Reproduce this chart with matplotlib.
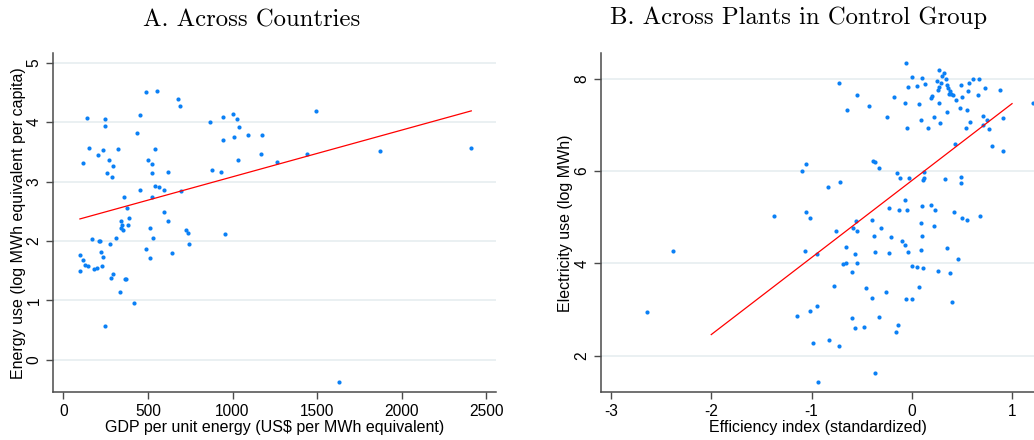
import matplotlib
matplotlib.use("Agg")
import matplotlib.pyplot as plt

plt.rcParams["axes.unicode_minus"] = False

# Panel A: countries (GDP per unit energy vs log energy use per capita)
gdp_per_energy = [
    98, 98, 118, 126, 146, 116, 142, 154, 169, 183, 197, 205, 211, 215, 224,
    228, 234, 236, 246, 248, 246, 258, 272, 276, 287, 283, 293, 295, 311, 323,
    333, 341, 343, 346, 350, 356, 362, 370, 376, 382, 390, 419, 433, 451, 453,
    488, 490, 500, 514, 514, 522, 526, 526, 531, 541, 543, 551, 565, 593, 593,
    616, 620, 642, 675, 691, 697, 726, 734, 742, 866, 876, 931, 941, 945, 957,
    1000, 1006, 1026, 1031, 1037, 1089, 1169, 1173, 1260, 1439, 1492, 1632,
    1870, 2411,
]
log_energy_pc = [
    1.76, 1.50, 1.68, 1.60, 1.58, 3.31, 4.07, 3.57, 2.03, 1.53, 1.55, 3.45,
    2.00, 1.99, 1.81, 1.58, 1.73, 3.53, 4.05, 3.94, 0.56, 3.14, 3.36, 1.95,
    3.08, 1.37, 1.44, 3.26, 2.05, 3.55, 1.14, 2.33, 2.21, 2.26, 2.18, 2.74,
    1.36, 1.36, 2.55, 2.26, 2.39, 0.95, 3.82, 2.86, 4.12, 1.87, 4.50, 3.36,
    2.22, 1.72, 3.15, 3.29, 2.74, 2.05, 2.92, 3.54, 4.52, 2.91, 2.86, 2.48,
    3.16, 2.34, 1.79, 4.39, 4.28, 2.84, 2.18, 2.14, 1.95, 4.00, 3.20, 3.16,
    4.09, 3.70, 2.12, 4.13, 3.75, 4.06, 3.36, 3.92, 3.78, 3.47, 3.78, 3.33,
    3.47, 4.18, -0.38, 3.51, 3.57,
]
fit_a_x = [98, 2411]
fit_a_y = [2.37, 4.19]

# Panel B: plants in control group (efficiency index vs log electricity use)
efficiency = [
    -0.728, -0.549, -0.648, -0.429, -1.094, -1.054, -0.837, -0.718, -0.389,
    -0.369, -0.326, -0.147, -0.114, -0.027, 0.126, 0.119, 0.116, 0.335, 0.488,
    0.488, -0.066,
    -1.373, -1.054, -1.017, -0.229, -0.130, -0.050, 0.100, 0.193, 0.229, 0.422,
    0.502, 0.555, 0.681, -0.399, -0.552, 0.090, 0.223, -0.582, -0.545, -0.758,
    -0.309, -0.379, -0.212, 0.100, -0.099, -0.066, -0.658, -1.061, -0.941,
    -0.562, -0.369, -0.226, -0.033, 0.087, 0.352, 0.461, -2.377, -0.681,
    -0.658, -0.545, -0.598, 0.000, 0.053, 0.116, 0.259, 0.382, -0.777, -0.461,
    -0.253, 0.076, -0.396, -0.060, 0.000, 0.398, -2.636, -1.147, -1.017,
    -0.941, -0.598, -0.329, -0.134, -0.568, -0.479, -0.153, -0.984, -0.827,
    -0.721, -0.366, -0.937,
    -0.060, 0.003, 0.106, -0.040, 0.050, 0.133, -0.173, -0.063, 0.076, -0.243,
    -0.043, 0.089, 0.166, 0.272, 0.319, 0.303, 0.339, 0.253, 0.289, 0.276,
    0.259, 0.349, 0.365, 0.382, 0.389, 0.372, 0.412, 0.438, 0.199, 0.189,
    0.269, 0.489, 0.572, 0.611, 0.674, 0.565, 0.505, 0.661, 0.731, 0.880,
    0.482, 0.549, 0.349, 0.223, 0.282, 0.542, 0.582, 0.714, 0.754, 0.714,
    0.771, 0.910, 0.429, 0.800, 0.910, 1.209,
]
log_elec_use = [
    7.91, 7.64, 7.33, 7.40, 6.00, 6.15, 5.66, 5.76, 6.22, 6.19, 6.07, 5.95,
    5.86, 5.86, 5.98, 5.86, 5.81, 5.82, 5.87, 5.74, 5.37,
    5.03, 5.12, 4.99, 5.20, 5.15, 5.16, 5.24, 5.27, 5.15, 5.12, 4.99, 4.94,
    5.02, 4.95, 4.92, 4.87, 4.81, 4.77, 4.70, 4.71, 4.77, 4.60, 4.57, 4.60,
    4.48, 4.39, 4.35, 4.26, 4.20, 4.20, 4.25, 4.23, 4.24, 4.30, 4.34, 4.10,
    4.27, 3.99, 4.00, 4.02, 3.82, 3.95, 3.92, 3.91, 3.84, 3.79, 3.51, 3.46,
    3.38, 3.48, 3.25, 3.23, 3.24, 3.17, 2.95, 2.87, 2.97, 3.07, 2.82, 2.84,
    2.66, 2.60, 2.62, 2.51, 2.28, 2.35, 2.22, 1.63, 1.43,
    8.35, 8.04, 8.01, 7.81, 7.84, 7.88, 7.61, 7.48, 7.45, 7.17, 6.93, 7.11,
    6.93, 8.18, 8.13, 8.05, 8.00, 7.94, 7.91, 7.82, 7.75, 7.86, 7.79, 7.74,
    7.66, 7.66, 7.64, 7.53, 7.63, 7.59, 7.48, 7.86, 7.91, 8.00, 7.99, 7.74,
    7.61, 7.65, 7.79, 7.76, 7.37, 7.33, 7.28, 7.17, 7.04, 6.94, 7.07, 7.19,
    7.10, 6.99, 6.92, 7.14, 6.59, 6.55, 6.43, 7.47,
]
fit_b_x = [-2.0, 1.0]
fit_b_y = [2.46, 7.46]

DOT = "#0b80f5"
GRID = "#e6eef0"
SPINE = "#4a4a4a"
SANS = "Liberation Sans"


def style_axes(ax):
    for side in ("top", "right"):
        ax.spines[side].set_visible(False)
    for side in ("left", "bottom"):
        ax.spines[side].set_color(SPINE)
        ax.spines[side].set_linewidth(1.1)
    ax.grid(axis="y", color=GRID, linewidth=1.2)
    ax.set_axisbelow(True)
    ax.tick_params(axis="both", direction="out", length=5, width=1,
                   color=SPINE, labelsize=11.2)
    ax.tick_params(axis="y", labelrotation=90)
    for lab in ax.get_yticklabels():
        lab.set_verticalalignment("center")
    for lab in ax.get_xticklabels() + ax.get_yticklabels():
        lab.set_fontfamily(SANS)


fig = plt.figure(figsize=(10.34, 4.40), dpi=100)

ax_a = fig.add_axes([0.0516, 0.1084, 0.4284, 0.7705])
ax_a.scatter(gdp_per_energy, log_energy_pc, s=9, color=DOT, linewidths=0,
             zorder=3)
ax_a.plot(fit_a_x, fit_a_y, color="red", linewidth=0.9, zorder=4)
ax_a.set_xlim(-59, 2559)
ax_a.set_ylim(-0.55, 5.16)
ax_a.set_xticks([0, 500, 1000, 1500, 2000, 2500])
ax_a.set_yticks([0, 1, 2, 3, 4, 5])
style_axes(ax_a)
ax_a.set_xlabel("GDP per unit energy (US$ per MWh equivalent)",
                fontfamily=SANS, fontsize=11.5, labelpad=1)
ax_a.set_ylabel("Energy use (log MWh equivalent per capita)",
                fontfamily=SANS, fontsize=11.5, labelpad=0.5)

ax_b = fig.add_axes([0.5812, 0.1084, 0.4188, 0.7705])
ax_b.scatter(efficiency, log_elec_use, s=9, color=DOT, linewidths=0,
             zorder=3)
ax_b.plot(fit_b_x, fit_b_y, color="red", linewidth=0.9, zorder=4)
ax_b.set_xlim(-3.10, 1.219)
ax_b.set_ylim(1.21, 8.55)
ax_b.set_xticks([-3, -2, -1, 0, 1])
ax_b.set_yticks([2, 4, 6, 8])
style_axes(ax_b)
ax_b.set_xlabel("Efficiency index (standardized)",
                fontfamily=SANS, fontsize=11.5, labelpad=1)
ax_b.set_ylabel("Electricity use (log MWh)",
                fontfamily=SANS, fontsize=11.5, labelpad=1)

fig.text(252 / 1034, 1 - 20 / 440, "A. Across Countries",
         fontfamily="cmr10", fontsize=17.8, ha="center", va="center")
fig.text(799 / 1034, 1 - 18 / 440, "B. Across Plants in Control Group",
         fontfamily="cmr10", fontsize=17.8, ha="center", va="center")

fig.savefig("out.png", dpi=100)
